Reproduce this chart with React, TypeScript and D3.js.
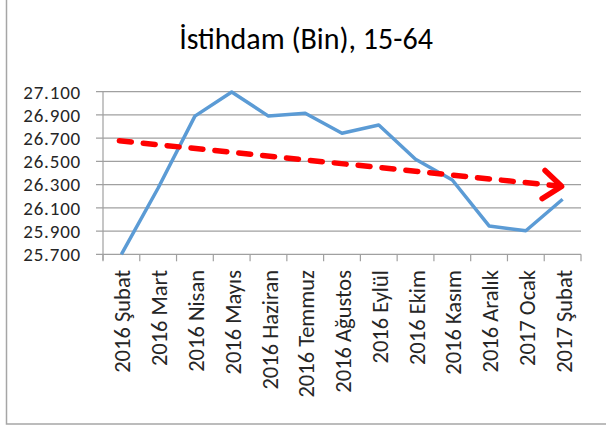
import React from "react";
import * as d3 from "d3";

const categories = [
  "2016 Şubat", "2016 Mart", "2016 Nisan", "2016 Mayıs", "2016 Haziran",
  "2016 Temmuz", "2016 Ağustos", "2016 Eylül", "2016 Ekim", "2016 Kasım",
  "2016 Aralık", "2017 Ocak", "2017 Şubat",
];
const values = [25700, 26271, 26890, 27098, 26890, 26914, 26742, 26813, 26518, 26340, 25944, 25903, 26174];
const yTicks = [25700, 25900, 26100, 26300, 26500, 26700, 26900, 27100];
const trendValues = [26678, 26285];
const title = "İstihdam (Bin), 15-64";

const W = 606, H = 428;
const left = 103, right = 581, top = 91.7, bottom = 254.3;
const FONT = "Carlito, Calibri, Lato, 'Open Sans', sans-serif";

const trLocale = d3.formatLocale({ decimal: ",", thousands: ".", grouping: [3], currency: ["", "₺"] });
const fmt = trLocale.format(",");

export default function App() {
  const x = d3.scaleBand<string>().domain(categories).range([left, right]);
  const y = d3.scaleLinear().domain([25700, 27100]).range([bottom, top]);
  const cx = (c: string) => (x(c) as number) + x.bandwidth() / 2;

  const line = d3.line<number>()
    .x((_, i) => cx(categories[i]))
    .y((d) => y(d));

  // trend arrow
  const x0 = cx(categories[0]) - 2;
  const x1 = cx(categories[categories.length - 1]) - 1;
  const y0 = y(trendValues[0]);
  const y1 = y(trendValues[1]);
  const ang = Math.atan2(y1 - y0, x1 - x0);
  const wing = 23;
  const spread = (38 * Math.PI) / 180;
  const wA = [x1 - wing * Math.cos(ang - spread), y1 - wing * Math.sin(ang - spread)];
  const wB = [x1 - wing * Math.cos(ang + spread), y1 - wing * Math.sin(ang + spread)];
  const dashEndX = x1 - 4 * Math.cos(ang);
  const dashEndY = y1 - 4 * Math.sin(ang);

  const bandTicks = [...categories.map((c) => x(c) as number), right];

  return (
    <svg width={W} height={H} style={{ position: "absolute", left: 0, top: 0, background: "#fff" }}
      fontFamily={FONT}>
      <rect x={0} y={0} width={W} height={H} fill="#fff" />
      <rect x={6.5} y={-5} width={W + 10} height={424 + 5} fill="none" stroke="#a6a6a6" strokeWidth={1.5} />
      <text x={306} y={49} textAnchor="middle" fontSize={30} fill="#000">{title}</text>

      {yTicks.map((t) => (
        <g key={t}>
          <line x1={left - 7} x2={right} y1={y(t)} y2={y(t)} stroke="#a0a0a0" strokeWidth={1.2} />
          <text x={81} y={y(t)} dy="0.36em" textAnchor="end" fontSize={19} letterSpacing={0.8}
            fill="#262626">{fmt(t)}</text>
        </g>
      ))}
      <line x1={left} x2={left} y1={top} y2={bottom + 6} stroke="#a0a0a0" strokeWidth={1.2} />
      {bandTicks.map((t, i) => (
        <line key={i} x1={t} x2={t} y1={bottom} y2={bottom + 7} stroke="#a0a0a0" strokeWidth={1.2} />
      ))}
      {categories.map((c) => (
        <text key={c} transform={`translate(${cx(c) + 1},270) rotate(-90)`} textAnchor="end" dy="0.36em"
          fontSize={22.5} fill="#262626">{c}</text>
      ))}

      <path d={line(values) || ""} fill="none" stroke="#5B9BD5" strokeWidth={3.5} strokeLinejoin="round" />

      <line x1={x0} y1={y0} x2={dashEndX} y2={dashEndY} stroke="#ff0000" strokeWidth={5.5}
        strokeDasharray="12 12" strokeLinecap="round" />
      <polyline points={`${wA[0]},${wA[1]} ${x1},${y1} ${wB[0]},${wB[1]}`} fill="none" stroke="#ff0000"
        strokeWidth={5.5} strokeLinecap="round" strokeLinejoin="round" />
    </svg>
  );
}
